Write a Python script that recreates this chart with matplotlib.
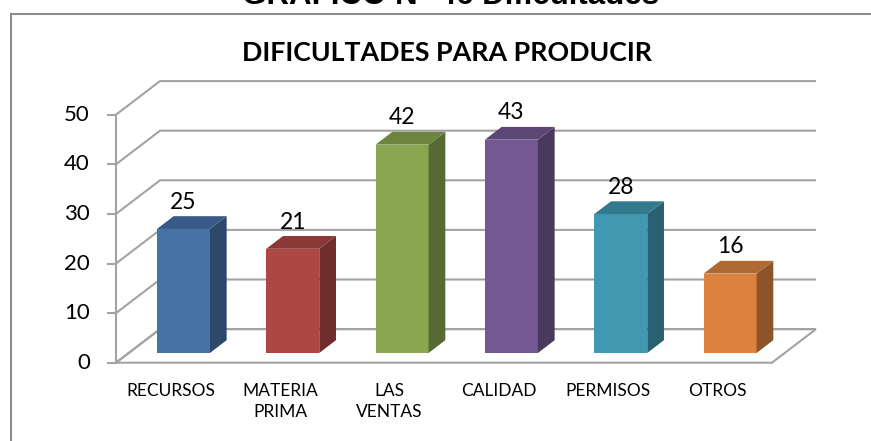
"""
Excel-style 3D column chart: DIFICULTADES PARA PRODUCIR.
"""

import matplotlib.pyplot as plt
import matplotlib.colors as mcolors
from matplotlib.lines import Line2D
from matplotlib.patches import Polygon

plt.switch_backend("Agg")

categories = ["RECURSOS", "MATERIA\nPRIMA", "LAS\nVENTAS", "CALIDAD", "PERMISOS", "OTROS"]
values = [25, 21, 42, 43, 28, 16]
bar_colors = ["#4572A7", "#AD4744", "#8AA64F", "#735892", "#4198B0", "#DB833E"]
y_ticks = [0, 10, 20, 30, 40, 50]
chart_title = "DIFICULTADES PARA PRODUCIR"
page_title = "GRAFICO N° 46 Dificultades"

W, H = 871, 441
# layout anchors (pixels)
X0_PX, SLOT_PX = 116.0, 109.33
Y0_PX, UNIT_PX = 362.7, 4.96
DEPTH_X, DEPTH_Y = 44.0 / SLOT_PX, 33.6 / UNIT_PX
BAR_W = 0.485
D_FRONT, D_BACK = 0.29, 0.67
GRID = "#A3A3A3"
FONT = "Lato"


def proj(x, y, d):
    """Oblique projection of (category, value, depth) into axis units."""
    return (x + d * DEPTH_X, y + d * DEPTH_Y)


def shade(color, f):
    r, g, b = mcolors.to_rgb(color)
    return (r * f, g * f, b * f)


fig = plt.figure(figsize=(W / 100, H / 100), dpi=100)
ax = fig.add_axes([0, 0, 1, 1])
ax.set_xlim(-X0_PX / SLOT_PX, (W - X0_PX) / SLOT_PX)
ax.set_ylim((Y0_PX - H) / UNIT_PX, Y0_PX / UNIT_PX)
ax.axis("off")

n = len(categories)
y_max = y_ticks[-1]

# floor
floor = [proj(0, 0, 0), proj(n, 0, 0), proj(n, 0, 1), proj(0, 0, 1)]
ax.add_patch(Polygon(floor, closed=True, facecolor="white", edgecolor=GRID, lw=1.5, zorder=1))

# side wall + back wall gridlines
for v in y_ticks:
    pts = [proj(0, v, 0), proj(0, v, 1), proj(n, v, 1)]
    ax.plot([p[0] for p in pts], [p[1] for p in pts], color=GRID, lw=1.5, zorder=2,
            solid_capstyle="butt")

# front value axis with ticks
ax.plot([0, 0], [0, y_max], color=GRID, lw=1.5, zorder=2)
for v in y_ticks:
    ax.plot([-0.075, 0], [v, v], color=GRID, lw=1.5, zorder=2)
    ax.text(-0.238, v, str(v), ha="right", va="center", fontsize=16,
            family=FONT, color="black")

# bars
for i, (v, c) in enumerate(zip(values, bar_colors)):
    xl = i + 0.5 - BAR_W / 2
    xr = i + 0.5 + BAR_W / 2
    front = [proj(xl, 0, D_FRONT), proj(xr, 0, D_FRONT), proj(xr, v, D_FRONT), proj(xl, v, D_FRONT)]
    side = [proj(xr, 0, D_FRONT), proj(xr, 0, D_BACK), proj(xr, v, D_BACK), proj(xr, v, D_FRONT)]
    top = [proj(xl, v, D_FRONT), proj(xr, v, D_FRONT), proj(xr, v, D_BACK), proj(xl, v, D_BACK)]
    ax.add_patch(Polygon(front, closed=True, facecolor=c, edgecolor="none", zorder=3))
    ax.add_patch(Polygon(side, closed=True, facecolor=shade(c, 0.64), edgecolor="none", zorder=3))
    ax.add_patch(Polygon(top, closed=True, facecolor=shade(c, 0.80), edgecolor="none", zorder=3))
    lx, ly = proj(i + 0.5, v + 5.4, D_FRONT)
    ax.text(lx, ly, str(v), ha="center", va="center", fontsize=16.5, family=FONT, zorder=4)

# category labels
for i, cat in enumerate(categories):
    ax.text(i + 0.5, -4.0, cat, ha="center", va="top", fontsize=12.5, family=FONT,
            linespacing=1.45)

# chart title
fig.text(447.5 / W, 1 - 53 / H, chart_title, ha="center", va="center", fontsize=19.3,
         fontweight="bold", family=FONT)

# page title above the chart frame, cut off by the top edge as in the source
fig.text(451 / W, 1 - 3.8 / H, page_title, ha="center", va="baseline", fontsize=22.5,
         fontweight="bold", family="Liberation Sans")

# chart frame
fl, ft = 11 / W, 1 - 14 / H
fig.add_artist(Line2D([fl, fl], [0, ft], transform=fig.transFigure, color="#8C8C8C", lw=1.5))
fig.add_artist(Line2D([fl, 1], [ft, ft], transform=fig.transFigure, color="#8C8C8C", lw=1.5))

fig.savefig("out.png", dpi=100)
plt.close(fig)
